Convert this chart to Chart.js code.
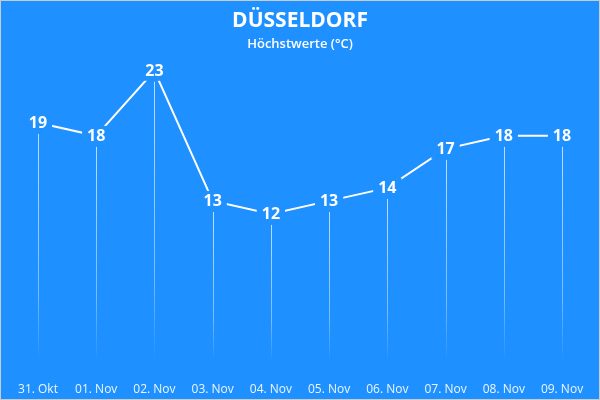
<!DOCTYPE html>
<html>
<head>
<meta charset="utf-8">
<script src="https://cdn.jsdelivr.net/npm/chart.js@4/dist/chart.umd.min.js"></script>
<style>
html,body{margin:0;padding:0;background:#1E90FF;}
#wrap{width:600px;height:400px;position:relative;}
</style>
</head>
<body>
<div id="wrap"><canvas id="c" width="600" height="400"></canvas></div>
<script>
const categories = ["31. Okt","01. Nov","02. Nov","03. Nov","04. Nov","05. Nov","06. Nov","07. Nov","08. Nov","09. Nov"];
const highs = [19, 18, 23, 13, 12, 13, 14, 17, 18, 18];
const titleText = "DÜSSELDORF";
const subtitleText = "Höchstwerte (°C)";

const BG = '#1E90FF';
const FONT = '"Open Sans", "Noto Sans", sans-serif';

const bgPlugin = {
  id: 'bg',
  beforeDraw(chart) {
    const ctx = chart.ctx;
    ctx.save();
    ctx.fillStyle = BG;
    ctx.fillRect(0, 0, chart.width, chart.height);
    ctx.restore();
  },
  afterDraw(chart) {
    const ctx = chart.ctx;
    ctx.save();
    ctx.strokeStyle = '#c4ccd4';
    ctx.lineWidth = 1;
    ctx.strokeRect(0.5, 0.5, chart.width - 1, chart.height - 1);
    ctx.restore();
  }
};

const dropPlugin = {
  id: 'drops',
  beforeDatasetsDraw(chart) {
    const ctx = chart.ctx;
    const meta = chart.getDatasetMeta(0);
    const bottom = chart.chartArea.bottom;
    ctx.save();
    meta.data.forEach(pt => {
      const x = Math.round(pt.x) + 0.5;
      const y0 = pt.y + 11;
      const g = ctx.createLinearGradient(0, y0, 0, bottom - 8);
      g.addColorStop(0, 'rgba(255,255,255,0.7)');
      g.addColorStop(0.7, 'rgba(255,255,255,0.4)');
      g.addColorStop(1, 'rgba(255,255,255,0)');
      ctx.strokeStyle = g;
      ctx.lineWidth = 1;
      ctx.beginPath();
      ctx.moveTo(x, y0);
      ctx.lineTo(x, bottom - 8);
      ctx.stroke();
    });
    ctx.restore();
  },
  afterDatasetsDraw(chart) {
    const ctx = chart.ctx;
    const meta = chart.getDatasetMeta(0);
    const vals = chart.data.datasets[0].data;
    ctx.save();
    ctx.font = 'bold 16px ' + FONT;
    ctx.textAlign = 'center';
    ctx.textBaseline = 'middle';
    meta.data.forEach((pt, i) => {
      const t = String(vals[i]);
      const w = ctx.measureText(t).width + 10;
      ctx.fillStyle = BG;
      ctx.fillRect(pt.x - w / 2, pt.y - 10, w, 20);
      ctx.fillStyle = '#ffffff';
      ctx.fillText(t, pt.x, pt.y + 1);
    });
    ctx.restore();
  }
};

new Chart(document.getElementById('c'), {
  type: 'line',
  data: {
    labels: categories,
    datasets: [{
      data: highs,
      borderColor: '#ffffff',
      borderWidth: 2,
      pointRadius: 0,
      tension: 0,
      fill: false
    }]
  },
  options: {
    responsive: false,
    animation: false,
    events: [],
    layout: { padding: { left: 38, right: 38, top: 0, bottom: 0 } },
    plugins: {
      legend: { display: false },
      tooltip: { enabled: false },
      title: {
        display: true,
        text: titleText,
        color: '#ffffff',
        font: { family: FONT, size: 21, weight: 'bold' },
        padding: { top: 8, bottom: 0 }
      },
      subtitle: {
        display: true,
        text: subtitleText,
        color: '#ffffff',
        font: { family: FONT, size: 13, weight: '600' },
        padding: { top: 3, bottom: 6 }
      }
    },
    scales: {
      x: {
        offset: false,
        grid: { display: false, drawTicks: false },
        border: { display: false },
        afterFit(scale) { scale.height = 30; },
        ticks: {
          color: 'rgba(255,255,255,0.92)',
          font: { family: FONT, size: 12 },
          padding: 12,
          maxRotation: 0,
          autoSkip: false
        }
      },
      y: {
        display: false,
        min: 0,
        max: 24
      }
    }
  },
  plugins: [bgPlugin, dropPlugin]
});
</script>
</body>
</html>
